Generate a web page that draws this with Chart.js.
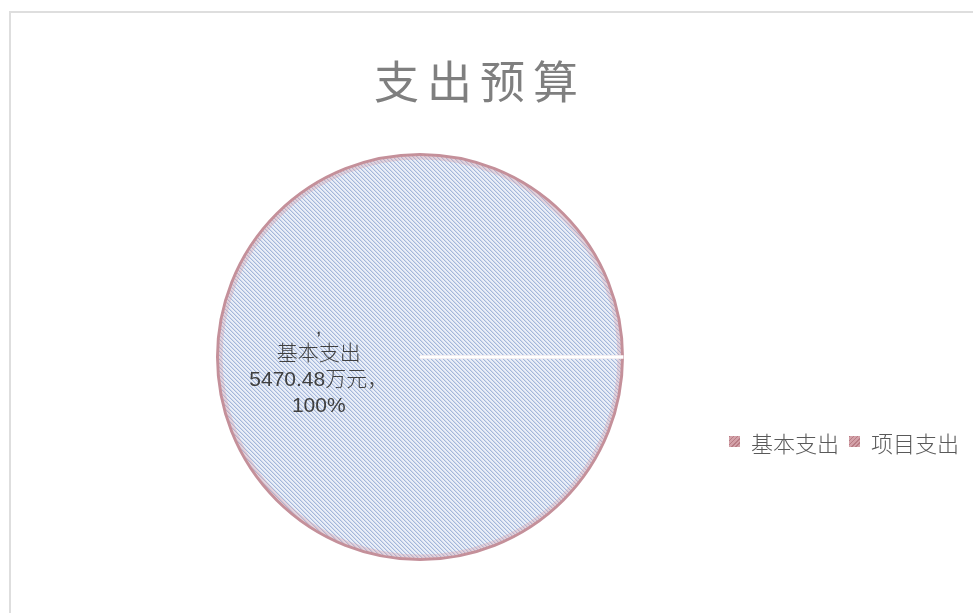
<!DOCTYPE html>
<html>
<head>
<meta charset="utf-8">
<script src="https://cdn.jsdelivr.net/npm/chart.js@4/dist/chart.umd.min.js"></script>
<style>
  html, body { margin:0; padding:0; background:#fff; width:973px; height:613px; overflow:hidden; position:relative; }
  #frame { position:absolute; left:9px; top:11px; width:2000px; height:2000px; border:2px solid #dedede; box-sizing:border-box; }
  #c { position:absolute; left:0; top:0; }
  #title { position:absolute; left:0; width:960px; top:50px; text-align:center; font-family:"Noto Sans CJK SC", sans-serif; font-weight:400; font-size:45px; line-height:60px; color:#7f7f7f; letter-spacing:8px; }
  #legend { position:absolute; left:729px; top:423px; font-family:"Noto Sans CJK SC", sans-serif; font-weight:300; font-size:22px; line-height:28px; color:#595959; white-space:nowrap; }
  #legend span.item { display:inline-flex; align-items:center; margin-right:10px; }
  #legend span.sw { display:inline-block; width:11px; height:11px; margin-right:11px; background:repeating-linear-gradient(135deg, #b87c84 0 1px, #d3a1a8 1px 3px); }
</style>
</head>
<body>
<div id="frame"></div>
<canvas id="c" width="973" height="613"></canvas>
<div id="title"></div>
<div id="legend"></div>
<script>
const chartTitle = '支出预算';
const categories = ['基本支出', '项目支出'];
const values = [5470.48, 0];
const unit = '万元';

document.getElementById('title').textContent = chartTitle;
const legendEl = document.getElementById('legend');
categories.forEach(c => {
  const it = document.createElement('span'); it.className = 'item';
  const sw = document.createElement('span'); sw.className = 'sw';
  const tx = document.createElement('span'); tx.textContent = c;
  it.appendChild(sw); it.appendChild(tx); legendEl.appendChild(it);
});

function makeHatch() {
  const t = document.createElement('canvas');
  t.width = 4; t.height = 4;
  const g = t.getContext('2d');
  g.fillStyle = '#eaeff8'; g.fillRect(0, 0, 4, 4);
  for (let i = 0; i < 4; i++) {
    g.fillStyle = '#a4b7da'; g.fillRect(i, i, 1, 1);
    g.fillStyle = '#d2dbee'; g.fillRect((i + 1) % 4, i, 1, 1);
  }
  return document.getElementById('c').getContext('2d').createPattern(t, 'repeat');
}
const hatch = makeHatch();

const total = values.reduce((a, b) => a + b, 0);

const extras = {
  id: 'extras',
  afterDatasetsDraw(chart) {
    const ctx = chart.ctx;
    const meta = chart.getDatasetMeta(0);
    const a0 = meta.data[0];
    const a1 = meta.data[1];
    const ang = a1.startAngle;
    ctx.save();
    // soft inner glow along the rim
    ctx.strokeStyle = 'rgba(214,160,168,0.35)';
    ctx.lineWidth = 4;
    ctx.beginPath();
    ctx.arc(a0.x, a0.y, a0.outerRadius - 3, 0, Math.PI * 2);
    ctx.stroke();
    // white separator = border of the zero-size second slice
    ctx.strokeStyle = '#ffffff';
    ctx.lineWidth = 3.5;
    ctx.beginPath();
    ctx.moveTo(a1.x, a1.y);
    ctx.lineTo(a1.x + (a1.outerRadius + 1) * Math.cos(ang), a1.y + (a1.outerRadius + 1) * Math.sin(ang));
    ctx.stroke();
    // data label
    const p = a0.tooltipPosition();
    const pct = Math.round(values[0] / total * 100) + '%';
    const lines = [',', categories[0], values[0].toFixed(2) + unit + '，', pct];
    ctx.fillStyle = '#404040';
    ctx.textAlign = 'center';
    ctx.textBaseline = 'middle';
    ctx.font = '300 21px "Liberation Sans", "Noto Sans CJK SC", sans-serif';
    const lh = 26;
    const cy = p.y + 10;
    lines.forEach((l, i) => {
      ctx.fillText(l, p.x, cy + (i - 1.5) * lh);
    });
    ctx.restore();
  }
};

new Chart(document.getElementById('c'), {
  type: 'pie',
  data: {
    labels: categories,
    datasets: [{
      data: values,
      backgroundColor: hatch,
      borderColor: '#c4909a',
      borderWidth: 3,
      hoverOffset: 0
    }]
  },
  options: {
    responsive: false,
    animation: false,
    rotation: 90,
    layout: { padding: { left: 216, right: 349, top: 153, bottom: 52 } },
    plugins: {
      legend: { display: false },
      title: { display: false },
      tooltip: { enabled: false }
    }
  },
  plugins: [extras]
});
</script>
</body>
</html>
